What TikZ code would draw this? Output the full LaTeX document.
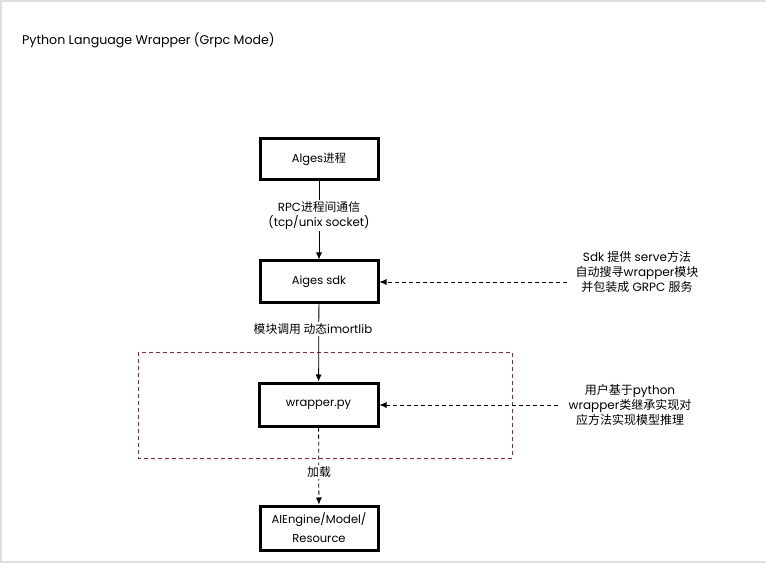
\documentclass[tikz,border=0pt]{standalone}
\usepackage{fontspec}
\setmainfont{Poppins}
\newfontfamily\cjk{Noto Sans CJK SC}
\newcommand{\zh}[1]{{\cjk #1}}
\usetikzlibrary{arrows.meta}
\begin{document}
\begin{tikzpicture}[x=1pt,y=-1pt,
  box/.style={draw=black,line width=3pt,minimum width=118pt,minimum height=41pt,inner sep=0pt,font=\fontsize{11.5}{14}\selectfont},
  lbl/.style={fill=white,inner sep=1.5pt,align=center,font=\fontsize{11.8}{15.5}\selectfont},
  note/.style={align=center,inner sep=2pt,font=\fontsize{12}{15}\selectfont},
  arr/.style={-{Latex[length=7pt,width=6pt]},line width=0.8pt},
  dsh/.style={dash pattern=on 4pt off 3pt},
  frameline/.style={draw=black!13,line width=1.5pt}]
\useasboundingbox (0,0) rectangle (766,564);
\fill[white] (0,0) rectangle (766,564);
\draw[frameline] (766,1) -- (1,1) -- (1,562) -- (766,562);
\node[anchor=west,inner sep=0pt,font=\fontsize{12.6}{14}\selectfont] (title) at (22,40) {Python Language Wrapper (Grpc Mode)};
\node[box] (b1) at (319,159.5) {Alges\zh{进程}};
\node[box] (b2) at (319,281.5) {Aiges sdk};
\node[box,minimum height=43pt,minimum width=119pt] (b3) at (318.5,404.5) {wrapper.py};
\node[box,minimum height=44pt,align=center,font=\fontsize{11.5}{19}\selectfont] (b4) at (319,528) {AIEngine/Model/\\Resource};
\draw[draw={rgb,255:red,200;green,16;blue,46},line width=0.9pt,dsh] (138,352) rectangle (512,458);
\draw[arr] (b1) -- (b2);
\node[lbl] (l1) at (319,215.5) {RPC\zh{进程间通信}\\(tcp/unix socket)};
\draw[arr] (b2) -- (b3);
\node[lbl] (l2) at (313,329) {\zh{模块调用 动态}imortlib};
\draw[arr,dsh] (b3) -- (b4);
\node[lbl] (l3) at (319,472) {\zh{加载}};
\node[note] (n1) at (637,272) {Sdk \zh{提供} serve\zh{方法}\\\zh{自动搜寻}wrapper\zh{模块}\\\zh{并包装成} GRPC \zh{服务}};
\node[note] (n2) at (630,405) {\zh{用户基于}python\\wrapper\zh{类继承实现对}\\\zh{应方法实现模型推理}};
\coordinate (c1) at (567,282);
\coordinate (c2) at (558,405);
\draw[arr,dsh] (c1) -- (b2.east |- c1);
\draw[arr,dsh] (c2) -- (b3.east |- c2);
\end{tikzpicture}
\end{document}
